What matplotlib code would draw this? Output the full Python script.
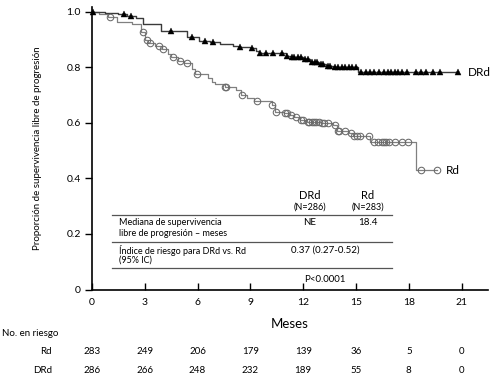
import numpy as np
import matplotlib
matplotlib.use("Agg")
import matplotlib.pyplot as plt
from matplotlib.lines import Line2D
from matplotlib.transforms import blended_transform_factory

plt.rcParams['font.family'] = ['Lato', 'DejaVu Sans']

# ---- data ----
drd_t = [0, 0.75, 1.5, 2.0, 2.5, 2.9, 3.9, 5.4, 6.1, 6.7, 7.3, 8.0, 8.3, 9.0, 9.3, 9.5,
         11.0, 11.3, 12.0, 12.4, 12.9, 13.3, 13.7, 15.1]
drd_s = [1.0, 0.996, 0.993, 0.987, 0.977, 0.957, 0.933, 0.909, 0.897, 0.891, 0.884, 0.879,
         0.875, 0.869, 0.860, 0.851, 0.843, 0.837, 0.829, 0.821, 0.813, 0.806, 0.800, 0.782]
drd_end = 20.8
drd_cens = [0.07, 1.8, 2.2, 4.5, 5.7, 6.4, 6.9, 8.4, 9.1, 9.55, 9.9, 10.3, 10.8, 11.1, 11.35,
            11.5, 11.7, 11.9, 12.1, 12.3, 12.5, 12.65, 12.8, 13.0, 13.15, 13.4, 13.55, 13.8,
            14.0, 14.2, 14.4, 14.6, 14.8, 15.0, 15.3, 15.55, 15.8, 16.05, 16.3, 16.6, 16.8,
            17.0, 17.2, 17.4, 17.6, 17.9, 18.4, 18.7, 19.0, 19.35, 19.8, 20.8]

rd_t = [0, 0.4, 0.9, 1.4, 2.3, 2.8, 3.0, 3.2, 3.6, 4.0, 4.3, 4.5, 4.9, 5.2, 5.7, 5.85, 6.6,
        6.8, 7.0, 7.56, 8.2, 8.45, 8.8, 9.2, 10.2, 10.4, 10.9, 11.2, 11.5, 11.8, 12.2, 13.0,
        13.7, 13.9, 14.6, 14.85, 15.8, 18.4]
rd_s = [1.0, 0.993, 0.981, 0.965, 0.955, 0.927, 0.900, 0.887, 0.876, 0.866, 0.850, 0.837,
        0.825, 0.815, 0.795, 0.777, 0.761, 0.749, 0.741, 0.729, 0.719, 0.701, 0.691, 0.680,
        0.665, 0.641, 0.635, 0.629, 0.620, 0.611, 0.605, 0.599, 0.593, 0.572, 0.563, 0.553,
        0.533, 0.430]
rd_end = 19.6
rd_cens = [1.0, 2.9, 3.1, 3.3, 3.8, 4.05, 4.6, 5.0, 5.4, 5.95, 7.56, 7.6, 8.5, 9.36, 10.25,
           10.45, 10.97, 11.1, 11.3, 11.6, 11.9, 12.0, 12.25, 12.35, 12.5, 12.6, 12.75, 12.9,
           13.05, 13.2, 13.4, 13.8, 13.95, 14.05, 14.4, 14.7, 14.9, 15.05, 15.25, 15.75, 16.0,
           16.25, 16.5, 16.6, 16.7, 16.9, 17.2, 17.6, 17.95, 18.7, 19.6]

months = [0, 3, 6, 9, 12, 15, 18, 21]
risk_rd = [283, 249, 206, 179, 139, 36, 5, 0]
risk_drd = [286, 266, 248, 232, 189, 55, 8, 0]
yticks = [0, 0.2, 0.4, 0.6, 0.8, 1.0]
ytick_labels = ['0', '0.2', '0.4', '0.6', '0.8', '1.0']


def step_value(t, s, x):
    t = np.asarray(t)
    s = np.asarray(s)
    idx = np.searchsorted(t, x, side='right') - 1
    return s[idx]


W, H = 496, 378
fig = plt.figure(figsize=(W / 100, H / 100), dpi=100)
ax = fig.add_axes([92 / W, 1 - 289.5 / H, 396 / W, 282.8 / H])
ax.set_xlim(0, 22.5)
ax.set_ylim(0, 1.019)

# curves
ax.step(list(rd_t) + [rd_end], list(rd_s) + [rd_s[-1]], where='post',
        color='#808080', lw=0.9, zorder=2)
ax.step(list(drd_t) + [drd_end], list(drd_s) + [drd_s[-1]], where='post',
        color='#3a3a3a', lw=1.0, zorder=3)
ax.plot(rd_cens, step_value(rd_t, rd_s, rd_cens), 'o', ms=4.7, mfc='none',
        mec='#6a6a6a', mew=0.75, zorder=4, clip_on=False)
ax.plot(drd_cens, step_value(drd_t, drd_s, drd_cens), '^', ms=4.6, color='black',
        mec='black', mew=0.3, zorder=5, clip_on=False)

ax.text(21.35, drd_s[-1], 'DRd', fontsize=8.5, va='center', ha='left', clip_on=False)
ax.text(20.1, rd_s[-1], 'Rd', fontsize=8.5, va='center', ha='left', clip_on=False)

# axes styling
for sp in ['top', 'right']:
    ax.spines[sp].set_visible(False)
ax.spines['left'].set_linewidth(1.2)
ax.spines['bottom'].set_linewidth(1.2)
ax.set_xticks(months)
ax.set_xticklabels([str(m) for m in months])
ax.set_yticks(yticks)
ax.set_yticklabels(ytick_labels)
ax.tick_params(axis='x', direction='in', length=5, width=1, labelsize=7.5, pad=6)
ax.tick_params(axis='y', direction='out', length=5, width=1, labelsize=7.5, pad=3)
ax.set_ylabel('Proporción de supervivencia libre de progresión', fontsize=7)
ax.yaxis.set_label_coords(-0.125, 0.5)
ax.set_xlabel('Meses', fontsize=9.5, labelpad=8)


# inner table (figure pixel coordinates)
def fy(py):
    return 1 - py / H


def fx(px):
    return px / W


fs_h = 8
fs_b = 6.5
fig.text(fx(310), fy(195), 'DRd', fontsize=fs_h, ha='center', va='center')
fig.text(fx(310), fy(207), '(N=286)', fontsize=fs_b, ha='center', va='center')
fig.text(fx(368), fy(195), 'Rd', fontsize=fs_h, ha='center', va='center')
fig.text(fx(368), fy(207), '(N=283)', fontsize=fs_b, ha='center', va='center')
for py in [215, 242.3, 267.7]:
    fig.add_artist(Line2D([fx(111.7), fx(391.7)], [fy(py), fy(py)],
                          color='#555555', lw=0.9))
fig.text(fx(119), fy(222.7), 'Mediana de supervivencia', fontsize=fs_b, ha='left', va='center')
fig.text(fx(119), fy(233.5), 'libre de progresión – meses', fontsize=fs_b, ha='left', va='center')
fig.text(fx(310), fy(222.7), 'NE', fontsize=fs_b + 0.5, ha='center', va='center')
fig.text(fx(368), fy(222.7), '18.4', fontsize=fs_b + 0.5, ha='center', va='center')
fig.text(fx(119), fy(250), 'Índice de riesgo para DRd vs. Rd', fontsize=fs_b, ha='left', va='center')
fig.text(fx(119), fy(260.5), '(95% IC)', fontsize=fs_b, ha='left', va='center')
fig.text(fx(325), fy(250), '0.37 (0.27-0.52)', fontsize=fs_b + 0.5, ha='center', va='center')
fig.text(fx(325), fy(280), 'P<0.0001', fontsize=fs_b + 0.5, ha='center', va='center')

# number at risk
trans = blended_transform_factory(ax.transData, fig.transFigure)
fig.text(fx(2), fy(334), 'No. en riesgo', fontsize=7, ha='left', va='center')
fig.text(fx(52), fy(352), 'Rd', fontsize=7, ha='right', va='center')
fig.text(fx(52), fy(370.7), 'DRd', fontsize=7, ha='right', va='center')
for m, a, b in zip(months, risk_rd, risk_drd):
    ax.text(m, fy(352), str(a), fontsize=7, ha='center', va='center', transform=trans)
    ax.text(m, fy(370.7), str(b), fontsize=7, ha='center', va='center', transform=trans)

fig.savefig('out.png', dpi=100)
